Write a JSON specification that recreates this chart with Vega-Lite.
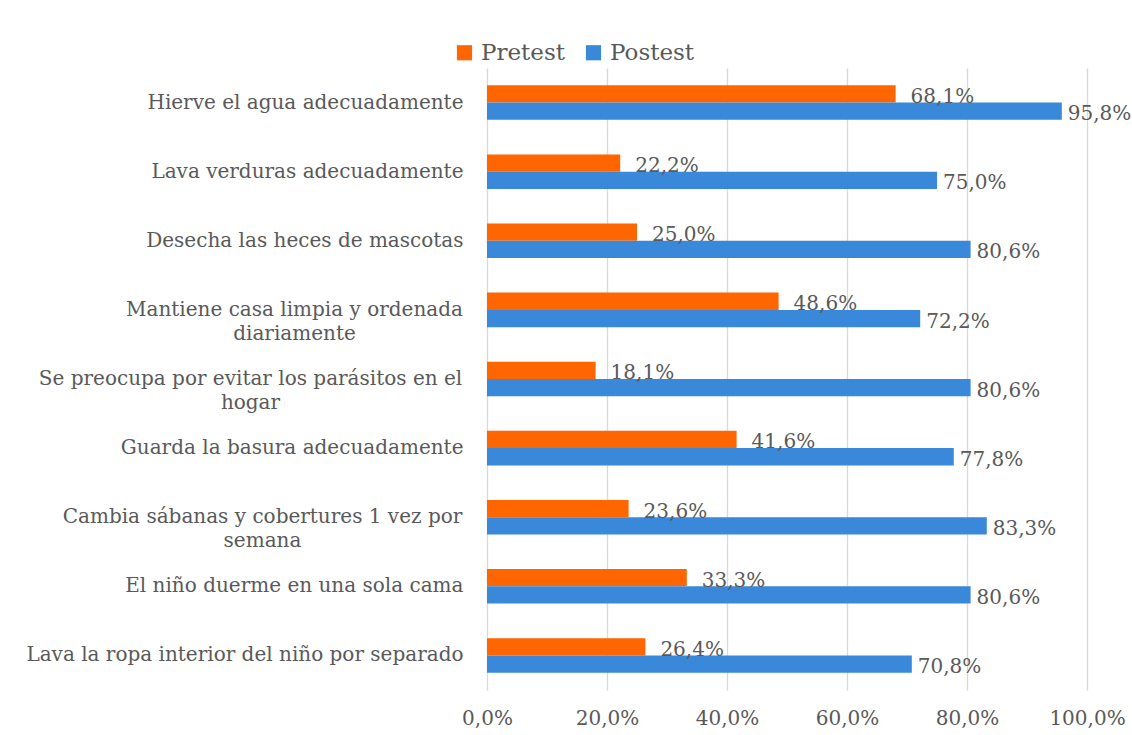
{
  "$schema": "https://vega.github.io/schema/vega-lite/v6.json",
  "autosize": "none",
  "width": 600,
  "height": 622,
  "padding": {"left": 487, "top": 68, "right": 45, "bottom": 45},
  "background": "white",
  "config": {
    "locale": {"number": {"decimal": ",", "thousands": ".", "grouping": [3], "currency": ["", " €"]}},
    "view": {"stroke": null},
    "font": "DejaVu Serif",
    "axisY": {
      "title": null,
      "orient": "left",
      "labelFontSize": 20,
      "labelColor": "#595959",
      "labelLineHeight": 24,
      "labelLimit": 600,
      "ticks": false,
      "domain": false,
      "grid": false,
      "labelFont": "DejaVu Serif"
    }
  },
  "data": {
    "values": [
      {"item": "Hierve el agua adecuadamente", "test": "Pretest", "value": 0.681},
      {"item": "Hierve el agua adecuadamente", "test": "Postest", "value": 0.958},
      {"item": "Lava verduras adecuadamente", "test": "Pretest", "value": 0.222},
      {"item": "Lava verduras adecuadamente", "test": "Postest", "value": 0.750},
      {"item": "Desecha las heces de mascotas", "test": "Pretest", "value": 0.250},
      {"item": "Desecha las heces de mascotas", "test": "Postest", "value": 0.806},
      {"item": "Mantiene casa limpia y ordenada|diariamente", "test": "Pretest", "value": 0.486},
      {"item": "Mantiene casa limpia y ordenada|diariamente", "test": "Postest", "value": 0.722},
      {"item": "Se preocupa por evitar los parásitos en el|hogar", "test": "Pretest", "value": 0.181},
      {"item": "Se preocupa por evitar los parásitos en el|hogar", "test": "Postest", "value": 0.806},
      {"item": "Guarda la basura adecuadamente", "test": "Pretest", "value": 0.416},
      {"item": "Guarda la basura adecuadamente", "test": "Postest", "value": 0.778},
      {"item": "Cambia sábanas y cobertures 1 vez por|semana", "test": "Pretest", "value": 0.236},
      {"item": "Cambia sábanas y cobertures 1 vez por|semana", "test": "Postest", "value": 0.833},
      {"item": "El niño duerme en una sola cama", "test": "Pretest", "value": 0.333},
      {"item": "El niño duerme en una sola cama", "test": "Postest", "value": 0.806},
      {"item": "Lava la ropa interior del niño por separado", "test": "Pretest", "value": 0.264},
      {"item": "Lava la ropa interior del niño por separado", "test": "Postest", "value": 0.708}
    ]
  },
  "encoding": {
    "yOffset": {"field": "test", "type": "nominal", "sort": ["Pretest", "Postest"], "scale": {"domain": ["Pretest", "Postest"]}},
    "x": {
      "field": "value",
      "type": "quantitative",
      "title": null,
      "scale": {"domain": [0, 1], "nice": false},
      "axis": {
        "format": ".1%",
        "values": [0, 0.2, 0.4, 0.6, 0.8, 1],
        "labelFontSize": 20,
        "labelColor": "#595959",
        "labelPadding": 18,
        "labelFlush": false,
        "ticks": false,
        "domain": false,
        "grid": true,
        "gridColor": "#D9D9D9",
        "gridWidth": 1.3,
        "labelFont": "DejaVu Serif"
      }
    }
  },
  "resolve": {"axis": {"y": "independent"}},
  "layer": [
    {
      "transform": [{"filter": "datum.test == 'Pretest'"}],
      "mark": {"type": "bar"},
      "encoding": {
        "y": {
          "field": "item", "type": "nominal", "sort": null,
          "scale": {"paddingInner": 0.5, "paddingOuter": 0.25},
          "axis": {"orient": "left", "labelPadding": 24, "labelAlign": "right",
            "labelExpr": "indexof(datum.label, '|') < 0 ? datum.label : ''"}
        },
        "color": {
          "field": "test",
          "type": "nominal",
          "sort": ["Pretest", "Postest"],
          "scale": {"domain": ["Pretest", "Postest"], "range": ["#FF6600", "#3A88DA"]},
          "legend": {
            "title": null,
            "orient": "none",
            "direction": "horizontal",
            "legendX": -34,
            "legendY": -27,
            "symbolType": "square",
            "symbolSize": 230,
            "symbolStrokeWidth": 0,
            "labelFontSize": 23,
            "labelColor": "#595959",
            "labelFont": "DejaVu Serif",
            "columnPadding": 17,
            "labelOffset": 5
          }
        }
      }
    },
    {
      "transform": [{"filter": "datum.test == 'Postest'"}],
      "mark": {"type": "bar"},
      "encoding": {
        "y": {
          "field": "item", "type": "nominal", "sort": null,
          "axis": {"orient": "left", "labelPadding": 193, "labelAlign": "center",
            "labelExpr": "indexof(datum.label, 'Mantiene') >= 0 ? split(datum.label, '|') : ''"}
        },
        "color": {"field": "test", "type": "nominal", "sort": ["Pretest", "Postest"]}
      }
    },
    {
      "transform": [{"filter": "datum.test == 'Pretest'"}],
      "mark": {"type": "text", "align": "left", "baseline": "middle", "fontSize": 20, "color": "#595959", "font": "DejaVu Serif", "dx": 15, "dy": 3},
      "encoding": {
        "y": {
          "field": "item", "type": "nominal", "sort": null,
          "axis": {"orient": "left", "labelPadding": 237, "labelAlign": "center",
            "labelExpr": "indexof(datum.label, 'preocupa') >= 0 ? split(datum.label, '|') : ''"}
        },
        "text": {"field": "value", "type": "quantitative", "format": ".1%"}
      }
    },
    {
      "transform": [{"filter": "datum.test == 'Postest'"}],
      "mark": {"type": "text", "align": "left", "baseline": "middle", "fontSize": 20, "color": "#595959", "font": "DejaVu Serif", "dx": 6, "dy": 3},
      "encoding": {
        "y": {
          "field": "item", "type": "nominal", "sort": null,
          "axis": {"orient": "left", "labelPadding": 225, "labelAlign": "center",
            "labelExpr": "indexof(datum.label, 'Cambia') >= 0 ? split(datum.label, '|') : ''"}
        },
        "text": {"field": "value", "type": "quantitative", "format": ".1%"}
      }
    }
  ]
}
